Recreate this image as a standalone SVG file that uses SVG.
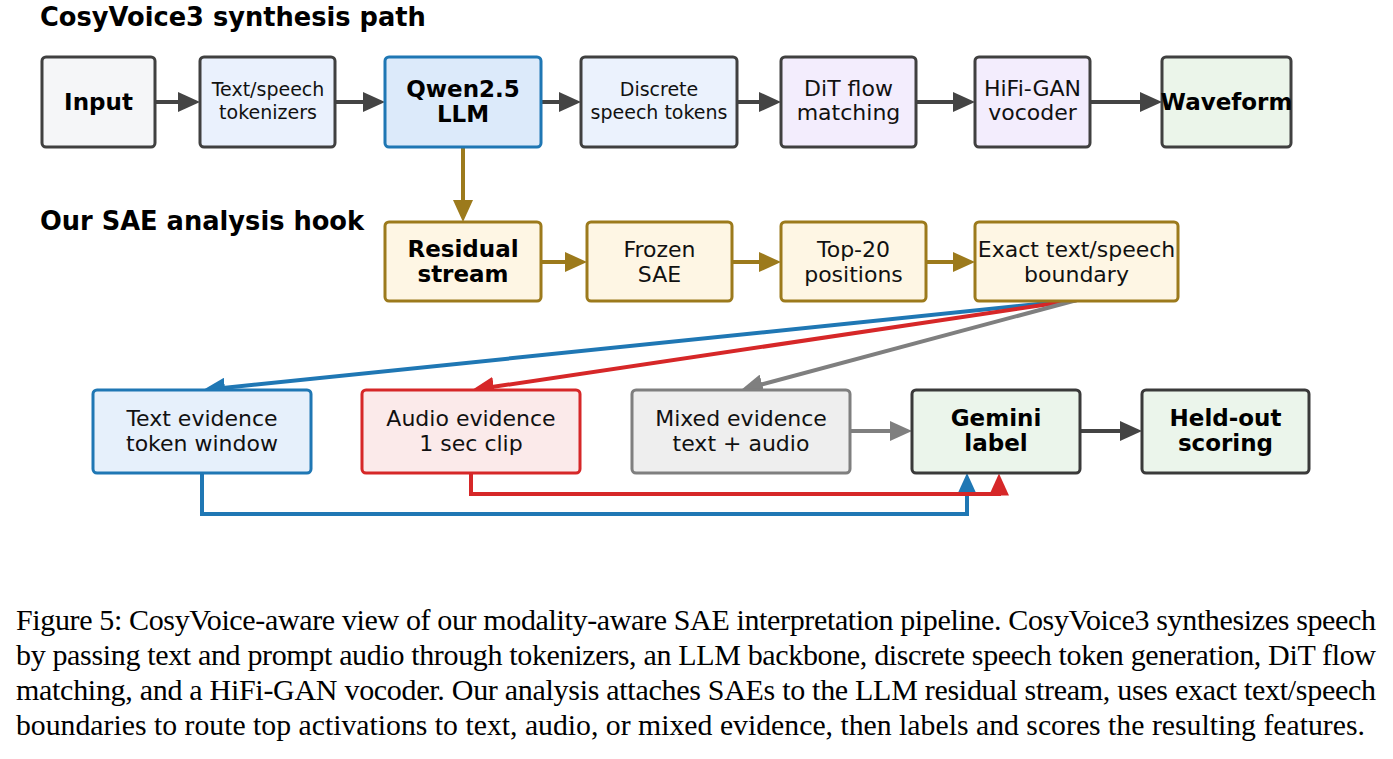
<svg xmlns="http://www.w3.org/2000/svg" width="1393" height="759" viewBox="0 0 1393 759">
<style>
.bg{fill:#ffffff}
.h{font-family:"DejaVu Sans",sans-serif;font-weight:bold;font-size:25.7px;fill:#000}
.t{font-family:"DejaVu Sans",sans-serif;font-size:22px;fill:#111;text-anchor:middle}
.ts{font-family:"DejaVu Sans",sans-serif;font-size:19px;fill:#111;text-anchor:middle}
.b{font-family:"DejaVu Sans",sans-serif;font-weight:bold;font-size:23px;fill:#000;text-anchor:middle}
.cap{font-family:"Liberation Serif",serif;font-size:30px;fill:#000}
rect{stroke-width:3}
.dk{stroke:#404040}
.gd{stroke:#9c7a1c;fill:#fef6e4}
.line{fill:none;stroke-width:4}
</style>
<defs>
<marker id="a-dk" markerUnits="userSpaceOnUse" markerWidth="22" markerHeight="20" refX="2" refY="10" orient="auto"><path d="M0,0 L22,10 L0,20 z" fill="#444444"/></marker>
<marker id="a-gd" markerUnits="userSpaceOnUse" markerWidth="22" markerHeight="20" refX="2" refY="10" orient="auto"><path d="M0,0 L22,10 L0,20 z" fill="#9c7a1c"/></marker>
<marker id="a-bl" markerUnits="userSpaceOnUse" markerWidth="22" markerHeight="20" refX="2" refY="10" orient="auto"><path d="M0,0 L22,10 L0,20 z" fill="#1f77b4"/></marker>
<marker id="a-rd" markerUnits="userSpaceOnUse" markerWidth="22" markerHeight="20" refX="2" refY="10" orient="auto"><path d="M0,0 L22,10 L0,20 z" fill="#d62728"/></marker>
<marker id="a-gy" markerUnits="userSpaceOnUse" markerWidth="22" markerHeight="20" refX="2" refY="10" orient="auto"><path d="M0,0 L22,10 L0,20 z" fill="#7f7f7f"/></marker>
</defs>
<rect class="bg" x="0" y="0" width="1393" height="759" style="stroke:none"/>

<text class="h" x="40" y="26">CosyVoice3 synthesis path</text>
<text class="h" x="40" y="230">Our SAE analysis hook</text>

<g id="connectors">
<path class="line" stroke="#444444" d="M153,102 H180" marker-end="url(#a-dk)"/>
<path class="line" stroke="#444444" d="M335,102 H365" marker-end="url(#a-dk)"/>
<path class="line" stroke="#444444" d="M541,102 H561" marker-end="url(#a-dk)"/>
<path class="line" stroke="#444444" d="M737,102 H761" marker-end="url(#a-dk)"/>
<path class="line" stroke="#444444" d="M916,102 H955" marker-end="url(#a-dk)"/>
<path class="line" stroke="#444444" d="M1090,102 H1142" marker-end="url(#a-dk)"/>
<path class="line" stroke="#9c7a1c" d="M463,147 V202" marker-end="url(#a-gd)"/>
<path class="line" stroke="#9c7a1c" d="M541,262 H567" marker-end="url(#a-gd)"/>
<path class="line" stroke="#9c7a1c" d="M732,262 H761" marker-end="url(#a-gd)"/>
<path class="line" stroke="#9c7a1c" d="M926,262 H955" marker-end="url(#a-gd)"/>
<path class="line" stroke="#1f77b4" stroke-width="3.5" d="M1077,300 L222.9,387.95" marker-end="url(#a-bl)"/>
<path class="line" stroke="#d62728" stroke-width="3.5" d="M1077,300 L491.8,387.06" marker-end="url(#a-rd)"/>
<path class="line" stroke="#7f7f7f" stroke-width="3.5" d="M1077,300 L760.3,384.8" marker-end="url(#a-gy)"/>
<path class="line" stroke="#7f7f7f" d="M850,431 H892" marker-end="url(#a-gy)"/>
<path class="line" stroke="#444444" d="M1080,431 H1122" marker-end="url(#a-dk)"/>
<path class="line" stroke="#1f77b4" stroke-width="3.5" d="M202,473 V514 H967 V493" marker-end="url(#a-bl)"/>
<path class="line" stroke="#d62728" stroke-width="3.5" d="M471,473 V494 H999 V493.5" marker-end="url(#a-rd)"/>
</g>

<g id="n-input"><rect class="dk" x="42" y="57" width="113" height="90" rx="4" fill="#f5f6f8"/><text class="b" x="98.5" y="110">Input</text></g>
<g id="n-tok"><rect class="dk" x="200" y="57" width="135" height="90" rx="4" fill="#eaf1fd"/><text class="ts" x="268" y="96">Text/speech</text><text class="ts" x="268" y="119">tokenizers</text></g>
<g id="n-llm"><rect x="385" y="57" width="156" height="90" rx="4" fill="#dceafa" stroke="#1f77b4"/><text class="b" x="463" y="97">Qwen2.5</text><text class="b" x="463" y="122">LLM</text></g>
<g id="n-disc"><rect class="dk" x="581" y="57" width="156" height="90" rx="4" fill="#ebf2fd"/><text class="ts" x="659" y="96">Discrete</text><text class="ts" x="659" y="119">speech tokens</text></g>
<g id="n-dit"><rect class="dk" x="781" y="57" width="135" height="90" rx="4" fill="#f3edfd"/><text class="t" x="848.5" y="96">DiT flow</text><text class="t" x="848.5" y="120">matching</text></g>
<g id="n-hifi"><rect class="dk" x="975" y="57" width="115" height="90" rx="4" fill="#f3edfd"/><text class="t" x="1032.5" y="96">HiFi-GAN</text><text class="t" x="1032.5" y="120">vocoder</text></g>
<g id="n-wave"><rect class="dk" x="1162" y="57" width="129" height="90" rx="4" fill="#ebf5ea"/><text class="b" x="1226.5" y="110">Waveform</text></g>

<g id="n-resid"><rect class="gd" x="385" y="222" width="156" height="79" rx="4"/><text class="b" x="463" y="257">Residual</text><text class="b" x="463" y="282">stream</text></g>
<g id="n-sae"><rect class="gd" x="587" y="222" width="145" height="79" rx="4"/><text class="t" x="659.5" y="257">Frozen</text><text class="t" x="659.5" y="282">SAE</text></g>
<g id="n-top"><rect class="gd" x="781" y="222" width="145" height="79" rx="4"/><text class="t" x="853.5" y="257">Top-20</text><text class="t" x="853.5" y="282">positions</text></g>
<g id="n-bound"><rect class="gd" x="975" y="222" width="203" height="79" rx="4"/><text class="t" x="1076.5" y="257">Exact text/speech</text><text class="t" x="1076.5" y="282">boundary</text></g>

<g id="n-text"><rect x="93" y="390" width="218" height="83" rx="4" fill="#e6f0fb" stroke="#1f77b4"/><text class="t" x="202" y="426">Text evidence</text><text class="t" x="202" y="451">token window</text></g>
<g id="n-audio"><rect x="362" y="390" width="218" height="83" rx="4" fill="#fbeaea" stroke="#d62728"/><text class="t" x="471" y="426">Audio evidence</text><text class="t" x="471" y="451">1 sec clip</text></g>
<g id="n-mixed"><rect x="632" y="390" width="218" height="83" rx="4" fill="#eeeeee" stroke="#7f7f7f"/><text class="t" x="741" y="426">Mixed evidence</text><text class="t" x="741" y="451">text + audio</text></g>
<g id="n-gemini"><rect x="912" y="390" width="168" height="83" rx="4" fill="#ebf5eb" stroke="#3a3a3a"/><text class="b" x="996" y="426">Gemini</text><text class="b" x="996" y="451">label</text></g>
<g id="n-held"><rect x="1142" y="390" width="167" height="83" rx="4" fill="#ebf5eb" stroke="#3a3a3a"/><text class="b" x="1225.5" y="426">Held-out</text><text class="b" x="1225.5" y="451">scoring</text></g>

<g id="caption">
<text class="cap" x="16" y="630" textLength="1360" lengthAdjust="spacing">Figure 5: CosyVoice-aware view of our modality-aware SAE interpretation pipeline. CosyVoice3 synthesizes speech</text>
<text class="cap" x="16" y="665" textLength="1360" lengthAdjust="spacing">by passing text and prompt audio through tokenizers, an LLM backbone, discrete speech token generation, DiT flow</text>
<text class="cap" x="16" y="700" textLength="1360" lengthAdjust="spacing">matching, and a HiFi-GAN vocoder. Our analysis attaches SAEs to the LLM residual stream, uses exact text/speech</text>
<text class="cap" x="16" y="735" textLength="1349" lengthAdjust="spacingAndGlyphs">boundaries to route top activations to text, audio, or mixed evidence, then labels and scores the resulting features.</text>
</g>
</svg>
